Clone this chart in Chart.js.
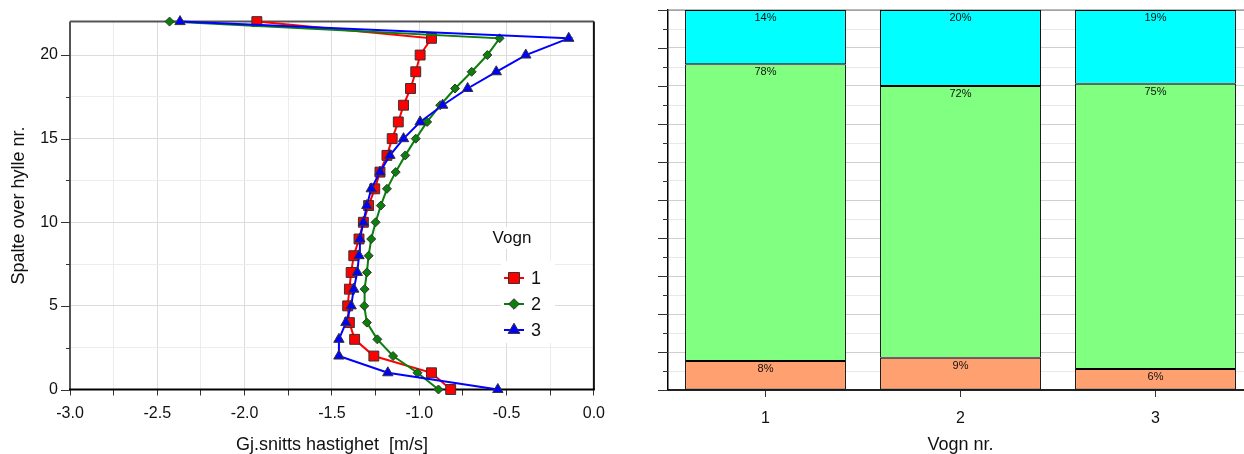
<!DOCTYPE html>
<html>
<head>
<meta charset="utf-8">
<script src="https://cdn.jsdelivr.net/npm/chart.js@4.4.1/dist/chart.umd.min.js"></script>
<style>
  html, body { margin: 0; padding: 0; background: #fff; overflow: hidden; }
  body { width: 1244px; height: 454px; position: relative; }
  #hastighet { position: absolute; left: 0; top: 0; }
  #fordeling { position: absolute; left: 620px; top: 0; }
</style>
</head>
<body>
<canvas id="hastighet" width="613" height="454"></canvas>
<canvas id="fordeling" width="633" height="454"></canvas>
<script>
// spalte (slot) over hylle, 0 = nederst
const spalter = [0, 1, 2, 3, 4, 5, 6, 7, 8, 9, 10, 11, 12, 13, 14, 15, 16, 17, 18, 19, 20, 21, 22];

// gjennomsnittlig hastighet [m/s] per spalte
const vogn1 = [-0.82, -0.93, -1.26, -1.37, -1.40, -1.41, -1.40, -1.39, -1.375, -1.345, -1.32, -1.29,
  -1.255, -1.225, -1.185, -1.155, -1.12, -1.09, -1.05, -1.02, -0.995, -0.93, -1.93];
const vogn2 = [-0.89, -1.01, -1.15, -1.24, -1.30, -1.315, -1.313, -1.30, -1.29, -1.275, -1.25, -1.22,
  -1.185, -1.135, -1.08, -1.02, -0.955, -0.88, -0.795, -0.70, -0.61, -0.54, -2.43];
const vogn3 = [-0.55, -1.18, -1.46, -1.46, -1.42, -1.39, -1.375, -1.355, -1.345, -1.34, -1.32, -1.30,
  -1.275, -1.225, -1.168, -1.09, -0.995, -0.866, -0.723, -0.559, -0.39, -0.144, -2.37];

// andel [%] per vogn, nedre / midtre / øvre del
const vogner = ['1', '2', '3'];
const andelNedre = [7.6, 8.5, 5.5];
const andelMidt = [78.1, 71.5, 75.1];
const andelOvre = [14.3, 20.0, 19.4];

const FONT = "'Liberation Sans', Arial, sans-serif";
Chart.defaults.font.family = FONT;
Chart.defaults.color = '#111';

const isStep = (v, step) => Math.abs(v / step - Math.round(v / step)) < 1e-6;

function serie(label, values, color, style, radius, order) {
  return {
    label,
    data: values.map((v, i) => ({ x: v, y: spalter[i] })),
    showLine: true,
    clip: false,
    order,
    borderColor: color,
    borderWidth: 2,
    pointStyle: style,
    pointRadius: radius,
    pointBackgroundColor: color,
    pointBorderColor: '#333',
    pointBorderWidth: 1
  };
}

// tick marks on the y axis, long on major values, short otherwise
const yTicks = {
  id: 'yTicks',
  afterDraw(chart, args, o) {
    const s = chart.scales.y, ctx = chart.ctx, left = chart.chartArea.left;
    ctx.save();
    ctx.strokeStyle = '#333';
    ctx.lineWidth = 1;
    s.ticks.forEach(t => {
      if (!isStep(t.value, o.step)) return;
      const y = Math.round(s.getPixelForValue(t.value)) + 0.5;
      const len = isStep(t.value, o.majorStep) ? o.major : o.minor;
      ctx.beginPath();
      ctx.moveTo(left - len, y);
      ctx.lineTo(left, y);
      ctx.stroke();
    });
    ctx.restore();
  }
};

// box round the plot area
const ramme = {
  id: 'ramme',
  beforeDatasetsDraw(chart, args, o) {
    const { left, right, top, bottom } = chart.chartArea;
    const ctx = chart.ctx;
    const side = (c, w, x1, y1, x2, y2) => {
      ctx.strokeStyle = c; ctx.lineWidth = w;
      ctx.beginPath(); ctx.moveTo(x1, y1); ctx.lineTo(x2, y2); ctx.stroke();
    };
    ctx.save();
    if (o.top) side(o.top, o.topWidth || 2, left, top, right, top);
    if (o.left) side(o.left, 2, left, top, left, bottom);
    if (o.right) side(o.right, 2, right, top, right, bottom);
    if (o.bottom) side(o.bottom, 2, left - 1, bottom, right + 1, bottom);
    ctx.restore();
  }
};

// legend box inside the plot
const vognForklaring = {
  id: 'vognForklaring',
  afterDraw(chart, args, o) {
    const ctx = chart.ctx;
    ctx.save();
    ctx.fillStyle = '#fff';
    ctx.fillRect(o.titleX - 25, o.titleY - 11, 50, 22);
    ctx.fillRect(o.markX - 13, o.rows[0] - 17, 54, o.rows[2] - o.rows[0] + 30);
    ctx.fillStyle = '#111';
    ctx.font = '17px ' + FONT;
    ctx.textAlign = 'center';
    ctx.textBaseline = 'middle';
    ctx.fillText(o.title, o.titleX, o.titleY);
    ctx.font = '18px ' + FONT;
    chart.data.datasets.forEach((ds, i) => {
      const y = o.rows[i];
      ctx.strokeStyle = ds.borderColor;
      ctx.lineWidth = 2;
      ctx.beginPath();
      ctx.moveTo(o.markX - 10, y);
      ctx.lineTo(o.markX + 10, y);
      ctx.stroke();
      ctx.fillStyle = ds.pointBackgroundColor;
      ctx.strokeStyle = ds.pointBorderColor;
      ctx.lineWidth = 1;
      Chart.helpers.drawPoint(ctx, { pointStyle: ds.pointStyle, radius: ds.pointRadius + 0.8, rotation: 0, borderWidth: 1 }, o.markX, y);
      ctx.fillStyle = '#111';
      ctx.textAlign = 'left';
      ctx.fillText(ds.label, o.markX + 17, y + 1);
    });
    ctx.restore();
  }
};

new Chart(document.getElementById('hastighet'), {
  type: 'scatter',
  data: {
    datasets: [
      serie('1', vogn1, '#ff0000', 'rect', 7, 2),
      serie('2', vogn2, '#0a800a', 'rectRot', 4.5, 1),
      serie('3', vogn3, '#0000ff', 'triangle', 6, 0)
    ]
  },
  options: {
    responsive: false,
    animation: false,
    layout: { padding: { top: 20, right: 13, left: 0, bottom: 0 } },
    plugins: {
      legend: { display: false },
      tooltip: { enabled: false },
      yTicks: { step: 2.5, majorStep: 5, major: 9, minor: 4 },
      ramme: { top: '#555', left: '#555', right: '#111', bottom: '#000' },
      vognForklaring: { title: 'Vogn', titleX: 512, titleY: 238, markX: 514, rows: [278, 304, 330] }
    },
    scales: {
      x: {
        type: 'linear',
        min: -3,
        max: 0,
        ticks: {
          stepSize: 0.25,
          autoSkip: false,
          maxTicksLimit: 20,
          maxRotation: 0,
          padding: 8,
          font: { size: 16 },
          callback: v => isStep(v, 0.5) ? v.toFixed(1) : ''
        },
        grid: {
          color: c => isStep(c.tick.value, 0.5) ? '#dcdcdc' : '#ececec',
          tickColor: '#333',
          tickLength: 6
        },
        border: { display: false },
        title: { display: true, text: 'Gj.snitts hastighet  [m/s]', font: { size: 18, lineHeight: 1 }, padding: 0 },
        afterFit: s => { s.height = 64.5; }
      },
      y: {
        type: 'linear',
        min: 0,
        max: 22,
        ticks: {
          stepSize: 2.5,
          autoSkip: false,
          padding: 12,
          font: { size: 16 },
          callback: v => isStep(v, 5) ? String(v) : ''
        },
        grid: {
          color: c => isStep(c.tick.value, 5) ? '#dcdcdc' : '#ececec',
          drawTicks: false
        },
        border: { display: false },
        title: { display: true, text: 'Spalte over hylle nr.', font: { size: 18, lineHeight: 1 }, padding: { top: 10, bottom: 0 } },
        afterFit: s => { s.width = 70; }
      }
    }
  },
  plugins: [ramme, yTicks, vognForklaring]
});

// percent written at the top of each bar segment
const prosentTekst = {
  id: 'prosentTekst',
  afterDatasetsDraw(chart) {
    const ctx = chart.ctx;
    ctx.save();
    ctx.font = '11px ' + FONT;
    ctx.fillStyle = '#111';
    ctx.textAlign = 'center';
    ctx.textBaseline = 'middle';
    chart.data.datasets.forEach((ds, i) => {
      chart.getDatasetMeta(i).data.forEach((bar, j) => {
        ctx.fillText(Math.round(ds.data[j]) + '%', bar.x, bar.y + 8);
      });
    });
    ctx.restore();
  }
};

new Chart(document.getElementById('fordeling'), {
  type: 'bar',
  data: {
    labels: vogner,
    datasets: [
      { label: 'Nedre', data: andelNedre, backgroundColor: '#ffa070' },
      { label: 'Midt', data: andelMidt, backgroundColor: '#80ff80' },
      { label: 'Øvre', data: andelOvre, backgroundColor: '#00ffff' }
    ]
  },
  options: {
    responsive: false,
    animation: false,
    layout: { padding: { top: 10, right: 0, left: 0, bottom: 0 } },
    datasets: {
      bar: { barPercentage: 0.825, categoryPercentage: 1, borderColor: '#000', borderWidth: 1, borderSkipped: false }
    },
    plugins: {
      legend: { display: false },
      tooltip: { enabled: false },
      yTicks: { step: 5, majorStep: 10, major: 10, minor: 5 },
      ramme: { top: '#777', topWidth: 1 }
    },
    scales: {
      x: {
        stacked: true,
        ticks: { padding: 12, font: { size: 16 } },
        grid: { drawOnChartArea: false, offset: false, tickColor: '#333', tickLength: 7 },
        border: { color: '#222', width: 2 },
        title: { display: true, text: 'Vogn nr.', font: { size: 18, lineHeight: 1 }, padding: 0 },
        afterFit: s => { s.height = 64; }
      },
      y: {
        stacked: true,
        min: 0,
        max: 100,
        ticks: { stepSize: 5, maxTicksLimit: 25, display: false },
        grid: {
          color: c => isStep(c.tick.value, 10) ? '#cfcfcf' : '#e8e8e8',
          drawTicks: false
        },
        border: { color: '#000', width: 1.5 },
        afterFit: s => { s.width = 48; }
      }
    }
  },
  plugins: [ramme, yTicks, prosentTekst]
});
</script>
</body>
</html>
